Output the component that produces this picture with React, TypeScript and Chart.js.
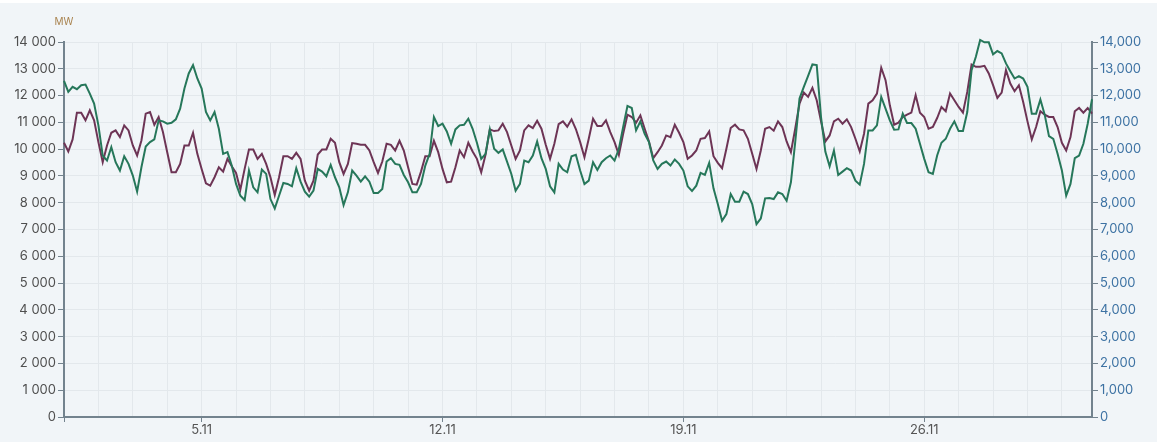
import React, { useEffect, useRef } from "react";
import { Chart, registerables } from "chart.js";

Chart.register(...registerables);

// Time axis: 1.11 – 30.11, one sample every 3 hours
const days: number[] = Array.from({ length: 30 }, (_, i) => i + 1);
const hours: number[] = [0, 3, 6, 9, 12, 15, 18, 21];
const month = 11;
const labelDays: number[] = [5, 12, 19, 26];

const categories: string[] = days.flatMap((d) => hours.map((h) => `${d}.${month} ${String(h).padStart(2, "0")}:00`));

const greenSeries: number[] = [
  12550, 12137, 12325, 12237, 12387, 12412, 12075, 11700, 10887, 9762,
  9575, 10075, 9512, 9200, 9737, 9450, 9012, 8412, 9325, 10100,
  10262, 10362, 11075, 11037, 10950, 10987, 11112, 11512, 12262, 12825,
  13137, 12637, 12262, 11387, 11075, 11387, 10762, 9825, 9887, 9387,
  8700, 8262, 8100, 9200, 8575, 8387, 9237, 9075, 8137, 7787,
  8262, 8737, 8700, 8612, 9287, 8787, 8412, 8225, 8450,
  9262, 9162, 8987, 9412, 8950, 8575, 7912, 8387, 9200, 9012, 8787,
  8987, 8787, 8362, 8362, 8512, 9537, 9662, 9450, 9412, 9037,
  8762, 8387, 8387, 8700, 9387, 9825, 11200, 10862, 10950, 10662,
  10200, 10737, 10887, 10912, 11137, 10762, 10237, 9637, 9825, 10737,
  10012, 9862, 9987, 9537, 9075, 8450, 8700, 9575, 9512, 9762,
  10287, 9662, 9262, 8612, 8387, 9450, 9237, 9137, 9737, 9787,
  9200, 8700, 8825, 9512, 9225, 9512, 9662, 9762, 9575, 10012,
  10825, 11612, 11537, 10700, 11037, 10575, 10262, 9575, 9262, 9450,
  9537, 9387, 9612, 9450, 9200, 8612, 8437, 8637, 9112, 9037,
  9487, 8537, 7950, 7325, 7575, 8325, 8037, 8037, 8412, 8325,
  7950, 7200, 7412, 8162, 8175, 8137, 8387, 8325, 8075, 8762,
  10262, 11887, 12325, 12737, 13162, 13137, 11200, 9912, 9362, 9950,
  9037, 9162, 9287, 9200, 8825, 8675, 9450, 10700, 10700, 10887,
  11950, 11512, 11075, 10725, 10737, 11325, 10975, 10975, 10762, 10200,
  9637, 9137, 9075, 9762, 10237, 10387, 10762, 11037, 10675, 10675,
  11387, 12950, 13450, 14075, 13987, 13987, 13537, 13662, 13575, 13200,
  12912, 12637, 12725, 12637, 12325, 11325, 11325, 11850, 11287, 10487,
  10387, 9825, 9200, 8262, 8700, 9662, 9762, 10200, 10950, 11862,
];

const purpleSeries: number[] = [
  10237, 9912, 10362, 11362, 11362, 11075, 11450, 11075, 10262, 9512,
  10137, 10612, 10700, 10450, 10887, 10700, 10137, 9762, 10325, 11325,
  11387, 10912, 11200, 10637, 9887, 9137, 9137, 9450, 10137, 10137,
  10612, 9825, 9262, 8725, 8637, 8950, 9325, 9162, 9637, 9362,
  9112, 8487, 9262, 9987, 9987, 9637, 9825, 9450, 8950, 8287,
  8950, 9737, 9737, 9637, 9862, 9637, 8825, 8450, 8825,
  9800, 9987, 9987, 10387, 10237, 9512, 9075, 9450, 10225, 10200, 10162,
  10162, 9950, 9512, 9112, 9537, 10200, 10162, 9950, 10312, 9950,
  9325, 8700, 8675, 9162, 9737, 9737, 10312, 9887, 9262, 8762,
  8787, 9325, 9950, 9700, 10237, 9912, 9637, 9137, 9787, 10737,
  10675, 10700, 10950, 10637, 10137, 9637, 9950, 10700, 10887, 10787,
  11062, 10762, 10162, 9637, 10200, 10937, 11037, 10837, 11112, 10750,
  10262, 9700, 10387, 11137, 10862, 10862, 11075, 10637, 10262, 9787,
  10575, 11287, 11200, 10987, 11262, 10762, 10287, 9662, 9887, 10137,
  10512, 10450, 10912, 10612, 10262, 9637, 9762, 9950, 10387, 10412,
  10662, 9737, 9487, 9287, 10012, 10787, 10912, 10737, 10700, 10387,
  9825, 9262, 9950, 10762, 10825, 10687, 11037, 10825, 10287, 9887,
  10762, 11700, 12112, 11950, 12287, 11825, 11037, 10287, 10512, 11040,
  11137, 10950, 11112, 10825, 10387, 9912, 10575, 11700, 11825, 12075,
  13037, 12575, 11637, 10912, 10987, 11200, 11287, 11362, 12012, 11362,
  11200, 10762, 10825, 11162, 11575, 11412, 12075, 11825, 11575, 11362,
  12137, 13162, 13075, 13075, 13112, 12825, 12387, 11912, 12112, 12950,
  12450, 12162, 12387, 11762, 11037, 10362, 10825, 11412, 11287, 11200,
  11200, 10825, 10237, 9950, 10450, 11412, 11537, 11362, 11537, 11325,
];

const yMin = 0;
const yMax = 14000;
const yStep = 1000;
const unitLabel = "MW";

const FONT = "Inter, 'Noto Sans', sans-serif";
const axisGray = "#73838e";

const fmtSpace = (v: number) => String(v).replace(/\B(?=(\d{3})+(?!\d))/g, " ");
const fmtComma = (v: number) => String(v).replace(/\B(?=(\d{3})+(?!\d))/g, ",");

const dayOf = (i: number) => days[Math.floor(i / hours.length)];
const isLabelTick = (i: number) => i % hours.length === 0 && labelDays.includes(dayOf(i));

export default function App() {
  const ref = useRef<HTMLCanvasElement | null>(null);

  useEffect(() => {
    document.body.style.margin = "0";
    document.body.style.background = "#ffffff";
    if (!ref.current) return;

    const bgPlugin = {
      id: "bg",
      beforeDraw(chart: any) {
        const c = chart.ctx;
        c.save();
        c.fillStyle = "#f1f5f8";
        c.fillRect(0, 3, chart.width, chart.height - 3);
        c.restore();
      },
      afterDraw(chart: any) {
        const c = chart.ctx;
        c.save();
        c.font = `10px ${FONT}`;
        c.fillStyle = "#a9834f";
        c.textAlign = "center";
        c.textBaseline = "middle";
        c.fillText(unitLabel, chart.chartArea.left, 22);
        c.restore();
      },
    };

    const chart = new Chart(ref.current, {
      type: "line",
      data: {
        labels: categories,
        datasets: [
          {
            label: "green",
            data: greenSeries,
            borderColor: "#26775a",
            backgroundColor: "#26775a",
            borderWidth: 2,
            pointRadius: 0,
            tension: 0,
            clip: false,
            yAxisID: "y",
          },
          {
            label: "purple",
            data: purpleSeries,
            borderColor: "#6d3455",
            backgroundColor: "#6d3455",
            borderWidth: 2,
            pointRadius: 0,
            tension: 0,
            clip: false,
            yAxisID: "y1",
          },
        ],
      },
      options: {
        animation: false,
        responsive: true,
        maintainAspectRatio: false,
        layout: { padding: { top: 42, left: 0, right: 0, bottom: 0 } },
        plugins: {
          legend: { display: false },
          tooltip: { enabled: false },
        },
        scales: {
          x: {
            type: "category",
            offset: false,
            border: { color: axisGray, width: 2 },
            grid: {
              color: (ctx: any) => (ctx.index % hours.length === 0 ? "#e3e8ec" : "rgba(0,0,0,0)"),
              tickColor: (ctx: any) => (isLabelTick(ctx.index) || ctx.index === 0 ? axisGray : "rgba(0,0,0,0)"),
              tickLength: 5,
              lineWidth: 1,
            },
            ticks: {
              autoSkip: false,
              maxRotation: 0,
              minRotation: 0,
              padding: 0,
              color: "#555555",
              font: { family: FONT, size: 13 },
              callback: (_v: any, i: number) => (isLabelTick(i) ? `${dayOf(i)}.${month}` : ""),
            },
            afterFit: (s: any) => {
              s.height = 25;
            },
          },
          y: {
            position: "left",
            min: yMin,
            max: yMax,
            border: { color: axisGray, width: 2 },
            grid: { color: "#e3e8ec", tickColor: axisGray, tickLength: 6, lineWidth: 1 },
            ticks: {
              stepSize: yStep,
              padding: 2,
              color: "#4f4f4f",
              font: { family: FONT, size: 13 },
              callback: (v: any) => fmtSpace(Number(v)),
            },
            afterFit: (s: any) => {
              s.width = 64;
            },
          },
          y1: {
            position: "right",
            min: yMin,
            max: yMax,
            border: { color: axisGray, width: 2 },
            grid: { drawOnChartArea: false, tickColor: axisGray, tickLength: 6 },
            ticks: {
              stepSize: yStep,
              padding: 2,
              color: "#3d72a3",
              font: { family: FONT, size: 13 },
              callback: (v: any) => fmtComma(Number(v)),
            },
            afterFit: (s: any) => {
              s.width = 65;
            },
          },
        },
      },
      plugins: [bgPlugin],
    });

    return () => chart.destroy();
  }, []);

  return (
    <div style={{ width: "1157px", height: "442px", position: "relative" }}>
      <canvas ref={ref} />
    </div>
  );
}
